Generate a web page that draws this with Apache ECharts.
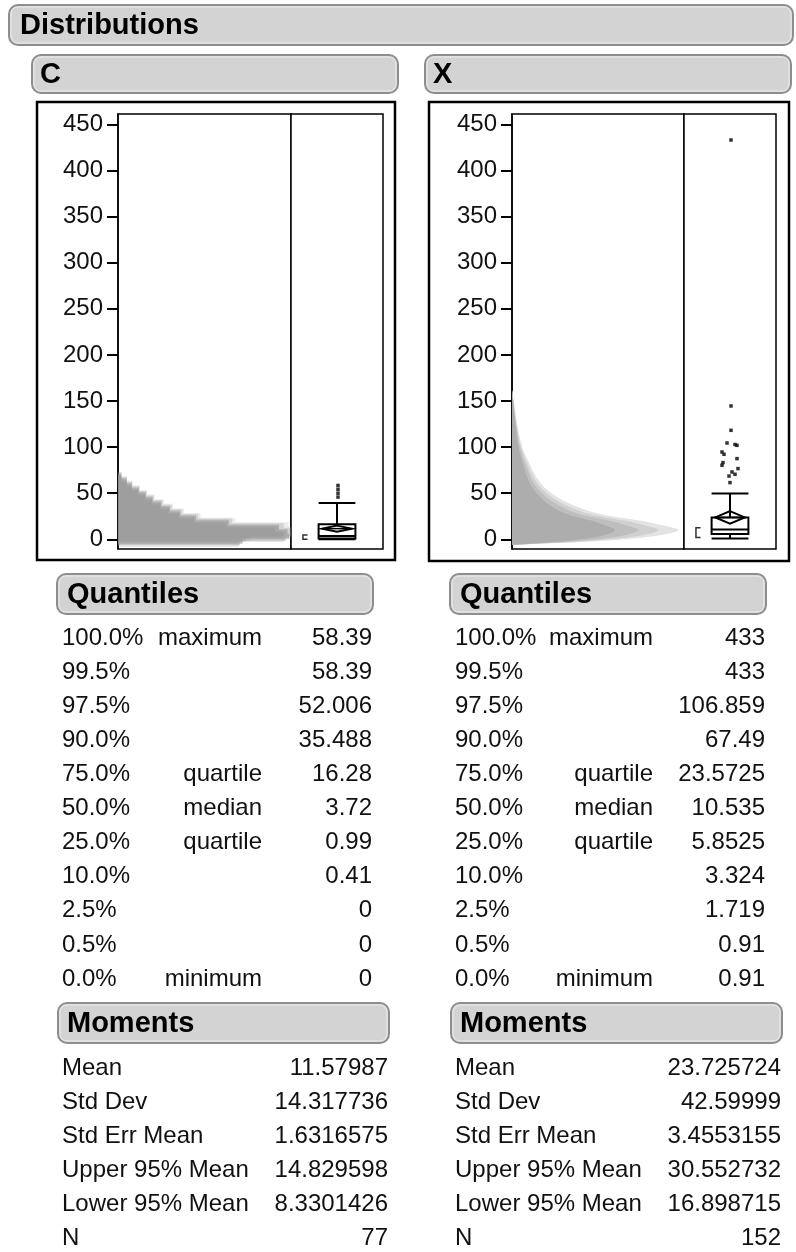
<!DOCTYPE html>
<html>
<head>
<meta charset="utf-8">
<title>Distributions</title>
<script src="https://cdn.jsdelivr.net/npm/echarts@6/dist/echarts.min.js"></script>
<style>
  html, body { margin: 0; padding: 0; background: #fff; }
  #chart { width: 796px; height: 1252px; }
</style>
</head>
<body>
<div id="chart"></div>
<script>
// ---- data ----
const yTicks = [0, 50, 100, 150, 200, 250, 300, 350, 400, 450];

const quantileLevels = ['100.0%', '99.5%', '97.5%', '90.0%', '75.0%', '50.0%', '25.0%', '10.0%', '2.5%', '0.5%', '0.0%'];
const quantileNames = ['maximum', '', '', '', 'quartile', 'median', 'quartile', '', '', '', 'minimum'];
const cQuantiles = ['58.39', '58.39', '52.006', '35.488', '16.28', '3.72', '0.99', '0.41', '0', '0', '0'];
const xQuantiles = ['433', '433', '106.859', '67.49', '23.5725', '10.535', '5.8525', '3.324', '1.719', '0.91', '0.91'];

const momentNames = ['Mean', 'Std Dev', 'Std Err Mean', 'Upper 95% Mean', 'Lower 95% Mean', 'N'];
const cMoments = ['11.57987', '14.317736', '1.6316575', '14.829598', '8.3301426', '77'];
const xMoments = ['23.725724', '42.59999', '3.4553155', '30.552732', '16.898715', '152'];

// whisker ends, shortest-half bracket and outlying points
const cWhiskers = [0, 39.5];
const xWhiskers = [0.91, 49.6];
const cShortestHalf = [0, 4.6];
const xShortestHalf = [2, 12.5];
const cOutliers = [58.39, 54.2, 50.0, 45.8];
const xOutliers = [433, 144.6, 118.2, 104.45, 102.8, 101.9, 94.7, 92.2, 87.5, 83.2, 80.3, 76.7, 73.0, 70.5, 68.6, 61.5];

// shadowgram outline of C: bin edges and relative bar length (% of panel)
const cShadeEdges = [-5, 0, 5, 10, 15, 20, 25, 30, 35, 40, 45, 50, 55, 60, 65, 70];
const cShadeLengths = [72, 99, 98, 93, 64, 45, 36, 30, 25, 20, 16, 12, 8, 5, 2];
// shadowgram outline of X: value and relative length (% of panel)
const xShadeValues = [-6, -3, 0, 5, 10, 15, 20, 25, 30, 40, 50, 60, 75, 100, 125, 150, 162];
const xShadeLengths = [0, 40, 65, 88, 97, 88, 75, 58, 46, 32, 23, 17, 12, 6, 3, 1, 0];

// ---- drawing ----
const FONT = '"Liberation Sans", Arial, Helvetica, sans-serif';
const Y_MIN = -10.5, Y_MAX = 461.2;
const HALF_BOX = 0.4, HALF_DIAMOND = 0.32;
const C_JITTER_PX = [1, 1, 1, 1];
const X_JITTER_PX = [1, 1, 1, -3, 5, 7, -8, -6, 7, -7, -8, 8, 2, 5, -1, 0];
const BOX_PX_PER_UNIT = 46;

const num = s => parseFloat(s);

function boxStats(q, moments, whiskers, shortHalf) {
  return {
    q1: num(q[6]), med: num(q[5]), q3: num(q[4]),
    mean: num(moments[0]), upper: num(moments[3]), lower: num(moments[4]),
    lo: whiskers[0], hi: whiskers[1], sh: shortHalf
  };
}
const cBox = boxStats(cQuantiles, cMoments, cWhiskers, cShortestHalf);
const xBox = boxStats(xQuantiles, xMoments, xWhiskers, xShortestHalf);

const grids = [
  { left: 118, top: 114, width: 173, height: 435 },
  { left: 291, top: 114, width: 92, height: 435 },
  { left: 512, top: 114, width: 172, height: 435 },
  { left: 684, top: 114, width: 92, height: 435 }
].map(g => Object.assign(g, { show: true, borderColor: '#000', borderWidth: 1.5, backgroundColor: '#fff' }));

const xAxes = grids.map((g, i) => ({
  gridIndex: i, type: 'value', show: false,
  min: i % 2 === 0 ? 0 : -1, max: i % 2 === 0 ? 100 : 1
}));

const yAxes = grids.map((g, i) => {
  const main = i % 2 === 0;
  return {
    gridIndex: i, type: 'value', min: Y_MIN, max: Y_MAX,
    axisLine: { show: main, lineStyle: { color: '#000', width: 1.5 } },
    axisTick: { show: main, length: 11, customValues: yTicks, lineStyle: { color: '#000', width: 2 } },
    axisLabel: { show: main, customValues: yTicks, fontSize: 24, fontFamily: FONT, color: '#111', margin: 15 },
    splitLine: { show: false }
  };
});

// overlaid histograms with shifted bin edges give the shadowgram look
function steppedShade(gridIdx, edges, lengths, layers) {
  return {
    type: 'custom', xAxisIndex: gridIdx, yAxisIndex: gridIdx, silent: true, clip: true, z: 2,
    data: layers.map((l, i) => [i, 0]),
    renderItem: (params, api) => {
      const layer = layers[params.dataIndex];
      const e = edges.map(v => v + layer.shift);
      const pts = [api.coord([0, e[0]])];
      lengths.forEach((w, i) => {
        const L = Math.min(100, w * layer.scale);
        pts.push(api.coord([L, e[i]]), api.coord([L, e[i + 1]]));
      });
      pts.push(api.coord([0, e[e.length - 1]]));
      return { type: 'polygon', shape: { points: pts }, style: { fill: layer.color } };
    }
  };
}

function smoothShade(gridIdx, values, lengths, layers) {
  return {
    type: 'custom', xAxisIndex: gridIdx, yAxisIndex: gridIdx, silent: true, clip: true, z: 2,
    data: layers.map((l, i) => [i, 0]),
    renderItem: (params, api) => {
      const layer = layers[params.dataIndex];
      const pts = [api.coord([0, values[0]])];
      values.forEach((v, i) => pts.push(api.coord([Math.min(100, lengths[i] * layer.scale), v])));
      pts.push(api.coord([0, values[values.length - 1]]));
      return { type: 'polygon', shape: { points: pts, smooth: 0.3 }, style: { fill: layer.color } };
    }
  };
}

function boxSeries(gridIdx, b) {
  return {
    type: 'custom', xAxisIndex: gridIdx, yAxisIndex: gridIdx, silent: true, z: 3,
    data: [[0, b.med]],
    renderItem: (params, api) => {
      const P = (x, y) => api.coord([x, y]);
      const line = (a, c, w) => ({ type: 'line', shape: { x1: a[0], y1: a[1], x2: c[0], y2: c[1] }, style: { stroke: '#000', lineWidth: w || 2 } });
      const tl = P(-HALF_BOX, b.q3), br = P(HALF_BOX, b.q1);
      const bx = -0.74, bw = 0.1;
      return {
        type: 'group',
        children: [
          line(P(0, b.q3), P(0, b.hi)),
          line(P(-HALF_BOX, b.hi), P(HALF_BOX, b.hi)),
          line(P(0, b.q1), P(0, b.lo)),
          line(P(-HALF_BOX, b.lo), P(HALF_BOX, b.lo)),
          { type: 'rect', shape: { x: tl[0], y: tl[1], width: br[0] - tl[0], height: br[1] - tl[1] },
            style: { fill: '#fff', stroke: '#000', lineWidth: 2 } },
          line(P(-HALF_BOX, b.med), P(HALF_BOX, b.med)),
          { type: 'polygon', shape: { points: [P(0, b.upper), P(HALF_DIAMOND, b.mean), P(0, b.lower), P(-HALF_DIAMOND, b.mean)] },
            style: { fill: 'none', stroke: '#000', lineWidth: 2 } },
          line(P(-HALF_DIAMOND, b.mean), P(HALF_DIAMOND, b.mean), 1.5),
          { type: 'polyline', shape: { points: [P(bx + bw, b.sh[0]), P(bx, b.sh[0]), P(bx, b.sh[1]), P(bx + bw, b.sh[1])] },
            style: { fill: 'none', stroke: '#333', lineWidth: 1.5 } }
        ]
      };
    }
  };
}

function outlierSeries(gridIdx, values, jitter) {
  return {
    type: 'scatter', xAxisIndex: gridIdx, yAxisIndex: gridIdx, silent: true, z: 4,
    symbol: 'rect', symbolSize: 3.5, itemStyle: { color: '#000' },
    data: values.map((v, i) => [jitter[i] / BOX_PX_PER_UNIT, v])
  };
}

// ---- report boxes and tables ----
const graphics = [];
function headerBar(x, y, w, h, label, textX) {
  graphics.push({ type: 'rect', shape: { x, y, width: w, height: h, r: 9 },
    style: { fill: '#d3d3d3', stroke: '#8e8e8e', lineWidth: 2 }, z: 1 });
  graphics.push({ type: 'rect', shape: { x: x + 2, y: y + 2, width: w - 4, height: h - 4, r: 7 },
    style: { fill: 'none', stroke: '#ececec', lineWidth: 1 }, z: 1 });
  graphics.push({ type: 'text', x: textX, y: y + h / 2 + 1, z: 2,
    style: { text: label, font: 'bold 29px ' + FONT, fill: '#000', align: 'left', verticalAlign: 'middle' } });
}
function txt(x, y, s, align) {
  graphics.push({ type: 'text', x, y, z: 2,
    style: { text: s, font: '24px ' + FONT, fill: '#111', align: align || 'left', verticalAlign: 'middle' } });
}
function frame(x, y, w, h) {
  graphics.push({ type: 'rect', shape: { x, y, width: w, height: h },
    style: { fill: 'none', stroke: '#000', lineWidth: 2.5 }, z: 1 });
}

headerBar(9, 5, 784, 40, 'Distributions', 20);
headerBar(32, 55, 366, 38, 'C', 40);
headerBar(425, 55, 366, 38, 'X', 433);
frame(37, 102, 358, 458);
frame(429, 102, 360, 459);

function quantileTable(x0, nameRight, valRight, values) {
  headerBar(x0 - 5, 574, 316, 40, 'Quantiles', x0 + 5);
  quantileLevels.forEach((lv, i) => {
    const y = 638 + i * 34.1;
    txt(x0, y, lv);
    if (quantileNames[i]) txt(nameRight, y, quantileNames[i], 'right');
    txt(valRight, y, values[i], 'right');
  });
}
function momentTable(x0, valRight, values) {
  headerBar(x0 - 4, 1003, 331, 40, 'Moments', x0 + 5);
  momentNames.forEach((m, i) => {
    const y = 1068 + i * 34;
    txt(x0, y, m);
    txt(valRight, y, values[i], 'right');
  });
}
quantileTable(62, 262, 372, cQuantiles);
quantileTable(455, 653, 765, xQuantiles);
momentTable(62, 388, cMoments);
momentTable(455, 781, xMoments);

const chart = echarts.init(document.getElementById('chart'), null, { renderer: 'canvas' });
chart.setOption({
  animation: false,
  backgroundColor: '#fff',
  textStyle: { fontFamily: FONT },
  grid: grids,
  xAxis: xAxes,
  yAxis: yAxes,
  graphic: graphics,
  series: [
    steppedShade(0, cShadeEdges, cShadeLengths, [
      { scale: 1.06, shift: 3.5, color: 'rgba(150,150,150,0.18)' },
      { scale: 1.03, shift: 2.5, color: 'rgba(150,150,150,0.3)' },
      { scale: 1.0, shift: 0, color: 'rgba(150,150,150,0.42)' },
      { scale: 0.98, shift: -1.5, color: 'rgba(150,150,150,0.42)' },
      { scale: 1.0, shift: 1.2, color: 'rgba(150,150,150,0.42)' },
      { scale: 0.97, shift: -3, color: 'rgba(150,150,150,0.25)' }
    ]),
    smoothShade(2, xShadeValues, xShadeLengths, [
      { scale: 1.0, color: '#e3e3e3' },
      { scale: 0.88, color: '#d0d0d0' },
      { scale: 0.76, color: '#bebebe' },
      { scale: 0.62, color: '#adadad' }
    ]),
    boxSeries(1, cBox),
    boxSeries(3, xBox),
    outlierSeries(1, cOutliers, C_JITTER_PX),
    outlierSeries(3, xOutliers, X_JITTER_PX)
  ]
});
</script>
</body>
</html>
